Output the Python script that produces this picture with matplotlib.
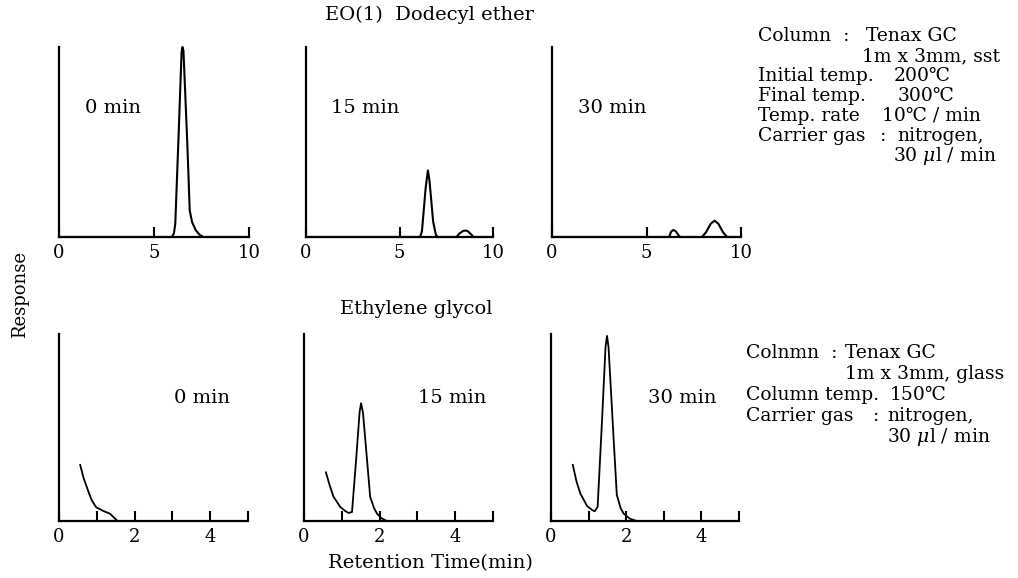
import matplotlib
matplotlib.use("Agg")
import matplotlib.pyplot as plt

plt.rcParams['font.family'] = ['DejaVu Serif', 'Noto Sans CJK JP']
plt.rcParams['mathtext.fontset'] = 'dejavuserif'

# ---- data: EO(1) Dodecyl ether chromatograms (retention time, response) ----
eo_0_x = [0, 5.95, 6.05, 6.12, 6.3, 6.45, 6.5, 6.55, 6.75, 6.88, 7.0, 7.2, 7.4, 7.6, 10]
eo_0_y = [0, 0, 0.02, 0.07, 0.55, 0.97, 1.0, 0.98, 0.5, 0.14, 0.08, 0.035, 0.012, 0, 0]

eo_15_x = [0, 6.1, 6.2, 6.4, 6.52, 6.6, 6.8, 6.95, 7.05, 8.05, 8.2, 8.4, 8.52, 8.65, 8.85, 8.95, 10]
eo_15_y = [0, 0, 0.03, 0.26, 0.35, 0.3, 0.08, 0.01, 0, 0, 0.018, 0.032, 0.034, 0.031, 0.012, 0, 0]

eo_30_x = [0, 6.2, 6.3, 6.42, 6.55, 6.7, 6.78, 7.93, 8.15, 8.4, 8.6, 8.8, 9.05, 9.26, 10]
eo_30_y = [0, 0, 0.028, 0.037, 0.03, 0.008, 0, 0, 0.025, 0.07, 0.086, 0.07, 0.025, 0, 0]

# ---- data: Ethylene glycol chromatograms ----
eg_0_x = [0.56, 0.65, 0.8, 0.87, 0.98, 1.18, 1.35, 1.44, 1.55, 5]
eg_0_y = [0.30, 0.23, 0.145, 0.11, 0.074, 0.053, 0.039, 0.021, 0, 0]

eg_15_x = [0.58, 0.68, 0.78, 0.96, 1.1, 1.18, 1.27, 1.38, 1.47, 1.51, 1.56, 1.66, 1.75, 1.85, 1.93, 2.05, 2.19, 5]
eg_15_y = [0.26, 0.19, 0.13, 0.075, 0.052, 0.043, 0.048, 0.33, 0.58, 0.63, 0.58, 0.345, 0.13, 0.07, 0.04, 0.015, 0, 0]

eg_30_x = [0.58, 0.68, 0.78, 0.96, 1.1, 1.16, 1.24, 1.36, 1.45, 1.49, 1.53, 1.66, 1.75, 1.85, 1.93, 2.1, 2.28, 5]
eg_30_y = [0.30, 0.21, 0.147, 0.08, 0.058, 0.052, 0.075, 0.55, 0.93, 0.99, 0.93, 0.46, 0.14, 0.07, 0.04, 0.012, 0, 0]

eo_ticks = [0, 5, 10]
eo_ticklabels = ['0', '5', '10']
eg_ticks = [0, 1, 2, 3, 4, 5]
eg_ticklabels = ['0', '', '2', '', '4', '']

panel_labels = ['0 min', '15 min', '30 min']

W, H = 1018, 578
FS = 14
BFS = 13.5
TFS = 13
fig = plt.figure(figsize=(W / 100, H / 100), dpi=100)


def px_axes(x0, x1, ytop, ybot):
    return fig.add_axes([x0 / W, 1 - ybot / H, (x1 - x0) / W, (ybot - ytop) / H])


def style(ax, xmax, ticks, labels):
    ax.set_xlim(0, xmax)
    ax.set_ylim(0, 1)
    for s in ['top', 'right']:
        ax.spines[s].set_visible(False)
    for s in ['left', 'bottom']:
        ax.spines[s].set_linewidth(1.6)
        ax.spines[s].set_color('black')
    ax.set_xticks(ticks)
    ax.set_xticklabels(labels)
    ax.tick_params(axis='x', direction='in', length=7, width=1.5, labelsize=TFS, pad=5)
    ax.set_yticks([])
    ax.patch.set_alpha(0)


def ftext(x, y, s, size=FS, **kw):
    fig.text(x / W, 1 - y / H, s, fontsize=size, ha='left', va='center', **kw)


top_x = [(59, 249), (306, 493), (552, 741)]
bot_x = [(59, 248), (304, 493), (551, 739)]

eo_data = [(eo_0_x, eo_0_y), (eo_15_x, eo_15_y), (eo_30_x, eo_30_y)]
eg_data = [(eg_0_x, eg_0_y), (eg_15_x, eg_15_y), (eg_30_x, eg_30_y)]

eo_label_pos = [(1.37, 0.68), (1.34, 0.68), (1.38, 0.68)]
eg_label_pos = [(3.05, 0.66), (3.02, 0.66), (2.58, 0.66)]

for i, ((x0, x1), (xs, ys)) in enumerate(zip(top_x, eo_data)):
    ax = px_axes(x0, x1, 47, 237)
    ax.plot(xs, ys, color='black', lw=1.5, clip_on=False)
    style(ax, 10, eo_ticks, eo_ticklabels)
    lx, ly = eo_label_pos[i]
    ax.text(lx, ly, panel_labels[i], fontsize=FS, ha='left', va='center')

for i, ((x0, x1), (xs, ys)) in enumerate(zip(bot_x, eg_data)):
    ax = px_axes(x0, x1, 334, 521)
    ax.plot(xs, ys, color='black', lw=1.3, clip_on=False)
    style(ax, 5, eg_ticks, eg_ticklabels)
    lx, ly = eg_label_pos[i]
    ax.text(lx, ly, panel_labels[i], fontsize=FS, ha='left', va='center')

ftext(325, 15, 'EO(1)  Dodecyl ether')
ftext(340, 309, 'Ethylene glycol')
ftext(328, 563, 'Retention Time(min)')
fig.text(20 / W, 1 - 294 / H, 'Response', fontsize=13, rotation=90, ha='center', va='center')

# operating conditions, upper block
upper = [
    (758, 36, 'Column  :'), (866, 36, 'Tenax GC'),
    (862, 56, '1m x 3mm, sst'),
    (758, 76, 'Initial temp.'), (894, 76, '200℃'),
    (758, 96, 'Final temp.'), (898, 96, '300℃'),
    (758, 116, 'Temp. rate'), (882, 116, '10℃ / min'),
    (758, 136, 'Carrier gas'), (880, 136, ':'), (897, 136, 'nitrogen,'),
    (893, 156, r'30 $\mu$l / min'),
]
# operating conditions, lower block
lower = [
    (746, 353, 'Colnmn  :'), (845, 353, 'Tenax GC'),
    (845, 374, '1m x 3mm, glass'),
    (746, 395, 'Column temp.'), (890, 395, '150℃'),
    (746, 416, 'Carrier gas'), (873, 416, ':'), (887, 416, 'nitrogen,'),
    (887, 437, r'30 $\mu$l / min'),
]
for x, y, t in upper + lower:
    ftext(x, y, t, size=BFS)

fig.savefig('out.png', dpi=100)
